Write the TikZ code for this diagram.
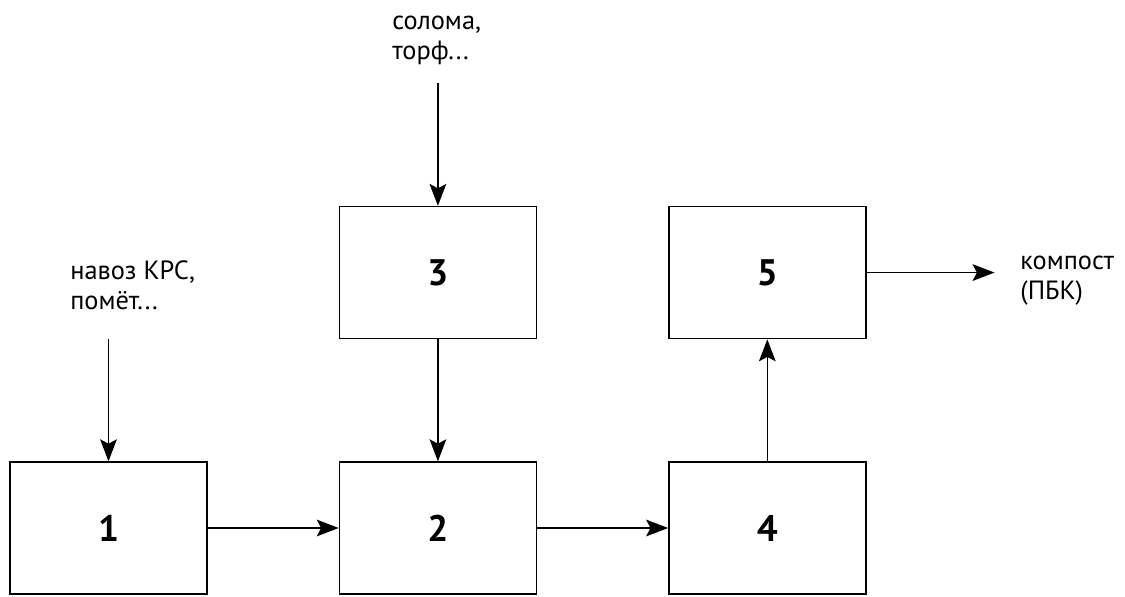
\documentclass[tikz,border=0pt]{standalone}
\usepackage{fontspec}
\setmainfont{PT Sans}
\usetikzlibrary{positioning, arrows.meta}

\begin{document}
\begin{tikzpicture}[node distance=2.44cm and 2.62cm, every node/.style={font=\fontsize{15}{17}\selectfont},
    stage/.style={draw, line width=0.8pt, minimum width=3.94cm, minimum height=2.64cm, font=\fontsize{21}{22}\selectfont\bfseries},
    feed/.style={align=left, anchor=west, inner sep=0pt},
    >={Stealth[length=12.5pt, width=9.5pt, inset=2.5pt]}]
    \useasboundingbox (0,0) rectangle (22.5,11.92);
    \node[stage] (st1) at (2.17,1.36) {1};
    \node[stage, right=of st1] (st2) {2};
    \node[stage, right=of st2] (st4) {4};
    \node[stage, above=of st2] (st3) {3};
    \node[stage, above=of st4] (st5) {5};
    % inputs and output
    \node[feed] (manure) at (1.4,6.22) {навоз КРС,\\помёт...};
    \node[feed] (straw) at (7.84,11.12) {солома,\\торф...};
    \node[feed] (compost) at (20.4,6.3) {компост\\(ПБК)};
    \coordinate[above=2.44cm of st1.north] (in1);
    \coordinate[above=2.46cm of st3.north] (in3);
    \coordinate[right=2.56cm of st5.east] (out5);
    \draw[->, line width=0.9pt] (in1) -- (st1);
    \draw[->, line width=0.9pt] (in3) -- (st3);
    \draw[->, line width=0.9pt] (st3) -- (st2);
    \draw[->, line width=0.9pt] (st1) -- (st2);
    \draw[->, line width=0.9pt] (st2) -- (st4);
    \draw[->, line width=0.9pt] (st4) -- (st5);
    \draw[->, line width=0.9pt] (st5) -- (out5);
\end{tikzpicture}
\end{document}
